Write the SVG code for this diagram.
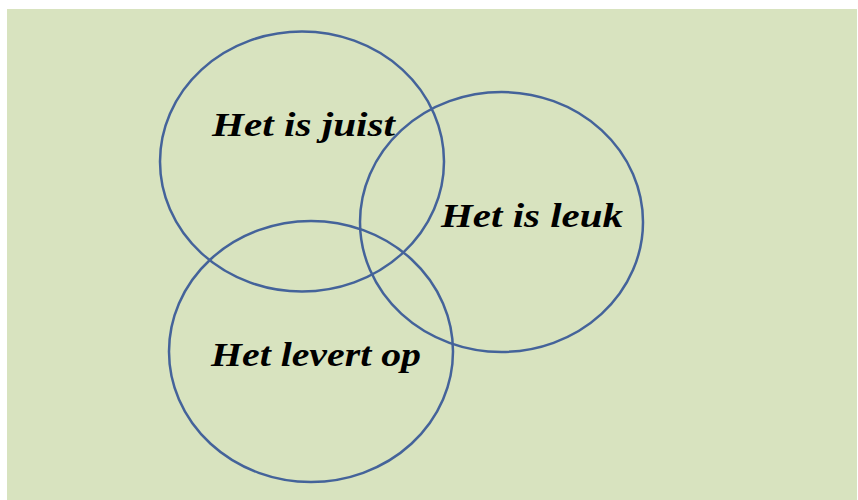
<svg xmlns="http://www.w3.org/2000/svg" width="858" height="500" viewBox="0 0 858 500">
<style>
.c{fill:none;stroke:#44639a;stroke-width:2.5}
.t{font-family:"Liberation Serif","DejaVu Serif",serif;font-style:italic;font-weight:bold;font-size:33px;fill:#000}
</style>
<rect x="0" y="0" width="858" height="500" fill="#ffffff"/>
<rect x="7" y="9" width="850" height="491" fill="#d8e3bf"/>
<g id="juist">
<ellipse class="c" cx="302" cy="161.5" rx="142" ry="130" stroke="#3b5b95"/>
<text class="t" x="212" y="136" textLength="183" lengthAdjust="spacingAndGlyphs">Het is juist</text>
</g>
<g id="leuk">
<ellipse class="c" cx="501.5" cy="222" rx="141.5" ry="130"/>
<text class="t" x="441" y="227" textLength="182" lengthAdjust="spacingAndGlyphs">Het is leuk</text>
</g>
<g id="levert">
<ellipse class="c" cx="311" cy="351.5" rx="142" ry="130.5"/>
<text class="t" x="211" y="366" textLength="210" lengthAdjust="spacingAndGlyphs">Het levert op</text>
</g>
<g id="connectors"></g>
</svg>
